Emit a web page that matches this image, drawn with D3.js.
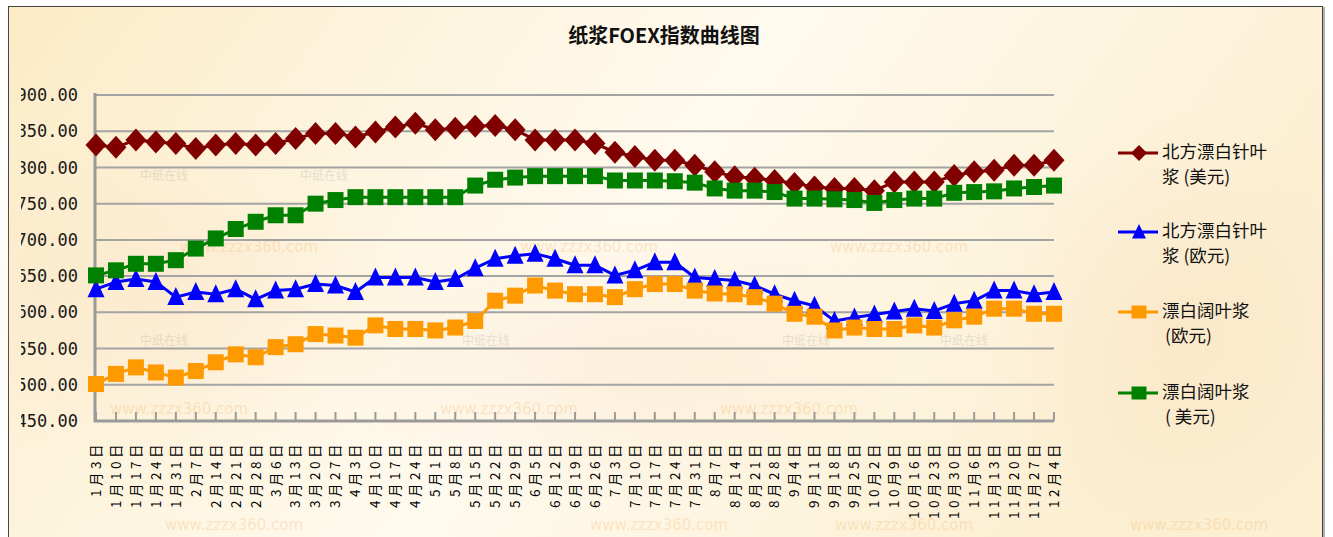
<!DOCTYPE html>
<html>
<head>
<meta charset="utf-8">
<script src="https://cdn.jsdelivr.net/npm/d3@7"></script>
<style>
  body { margin: 0; background: #fff; }
  svg { display: block; }
</style>
</head>
<body>
<div id="chart"></div>
<script>
const width = 1333;
const height = 537;
const plot = {left: 96, right: 1054, top: 95, bottom: 421};

const categories = [
  "1月3", "1月10", "1月17", "1月24", "1月31", "2月7", "2月14", "2月21", "2月28",
  "3月6", "3月13", "3月20", "3月27", "4月3", "4月10", "4月17", "4月24",
  "5月1", "5月8", "5月15", "5月22", "5月29", "6月5", "6月12", "6月19", "6月26",
  "7月3", "7月10", "7月17", "7月24", "7月31", "8月7", "8月14", "8月21", "8月28",
  "9月4", "9月11", "9月18", "9月25", "10月2", "10月9", "10月16", "10月23", "10月30",
  "11月6", "11月13", "11月20", "11月27", "12月4"
];

// 北方漂白针叶浆 (美元)
const nbskUsd = [
  831, 828, 838, 835, 833, 826, 831, 833, 831, 833, 840, 847, 847, 842, 849, 856, 861,
  852, 854, 857, 858, 852, 838, 838, 838, 833, 821, 815, 810, 810, 803, 794, 787, 785,
  782, 778, 773, 771, 771, 768, 780, 780, 780, 789, 794, 796, 803, 803, 810
];
// 北方漂白针叶浆 (欧元)
const nbskEur = [
  632, 642, 646, 642, 621, 628, 625, 632, 618, 630, 632, 639, 637, 628, 648, 648, 648,
  642, 646, 661, 674, 678, 681, 674, 665, 665, 651, 658, 669, 669, 648, 646, 644, 637,
  625, 616, 609, 588, 593, 597, 601, 605, 602, 612, 616, 630, 630, 625, 628
];
// 漂白阔叶浆 (欧元)
const bhkpEur = [
  501, 515, 524, 517, 510, 519, 531, 542, 538, 552, 556, 570, 568, 565, 582, 577, 577,
  575, 579, 588, 616, 623, 637, 630, 625, 625, 621, 632, 639, 639, 630, 626, 625, 621,
  612, 598, 594, 575, 579, 577, 577, 582, 579, 589, 594, 605, 605, 598, 598
];
// 漂白阔叶浆 (美元)
const bhkpUsd = [
  651, 658, 667, 667, 672, 688, 702, 715, 725, 734, 734, 750, 755, 759, 759, 759, 759,
  759, 759, 775, 783, 786, 788, 788, 788, 788, 782, 782, 782, 781, 779, 771, 768, 768,
  766, 757, 757, 756, 755, 751, 755, 757, 757, 765, 766, 767, 771, 773, 775
];

const yTicks = [450, 500, 550, 600, 650, 700, 750, 800, 850, 900];
const seriesNames = [
  ["北方漂白针叶", "浆 (美元)"],
  ["北方漂白针叶", "浆 (欧元)"],
  ["漂白阔叶浆", "(欧元)"],
  ["漂白阔叶浆", "( 美元)"]
];
const title = "纸浆FOEX指数曲线图";
const dateSuffix = "日";

const markers = {
  diamond: (w, h) => `M0,${-h}L${w},0L0,${h}L${-w},0Z`,
  triangle: (w, h) => `M0,${-h}L${w},${h * 0.8}L${-w},${h * 0.8}Z`,
  square: (w, h) => `M${-w},${-h}H${w}V${h}H${-w}Z`
};

const series = [
  {values: nbskUsd, color: "#800000", marker: "diamond", size: [10.5, 11.5], legendSize: [8, 8], name: seriesNames[0]},
  {values: nbskEur, color: "#0000ff", marker: "triangle", size: [8.5, 10], legendSize: [7, 8], name: seriesNames[1]},
  {values: bhkpEur, color: "#ff9900", marker: "square", size: [8, 8], legendSize: [7.5, 6.5], name: seriesNames[2]},
  {values: bhkpUsd, color: "#008000", marker: "square", size: [8, 8], legendSize: [7.5, 6.5], name: seriesNames[3]}
];

const x = d3.scalePoint()
  .domain(categories)
  .range([plot.left, plot.right]);

const y = d3.scaleLinear()
  .domain([450, 900])
  .range([plot.bottom, plot.top]);

const svg = d3.select("#chart")
  .append("svg")
  .attr("width", width)
  .attr("height", height)
  .attr("viewBox", [0, 0, width, height]);

const defs = svg.append("defs");
const bg = defs.append("linearGradient").attr("id", "bg").attr("x1", 0).attr("x2", 1).attr("y1", 0).attr("y2", 0.3);
[["0%", "#fcebc6"], ["25%", "#fdf3db"], ["55%", "#fffaee"], ["80%", "#fdf4de"], ["100%", "#fcefd2"]]
  .forEach(([o, c]) => bg.append("stop").attr("offset", o).attr("stop-color", c));
const glow = defs.append("radialGradient").attr("id", "glow");
glow.append("stop").attr("offset", "0%").attr("stop-color", "#f7d2ae").attr("stop-opacity", 0.25);
glow.append("stop").attr("offset", "100%").attr("stop-color", "#f7d2ae").attr("stop-opacity", 0);

defs.append("clipPath").attr("id", "ylabel-clip")
  .append("rect").attr("x", 21).attr("y", 60).attr("width", 74).attr("height", 380);

// frame and background
svg.append("rect")
  .attr("x", 8.5).attr("y", 6.5)
  .attr("width", 1314).attr("height", 540)
  .attr("fill", "url(#bg)")
  .attr("stroke", "#444").attr("stroke-width", 1);

svg.append("line")
  .attr("x1", 1324).attr("x2", 1324).attr("y1", 7).attr("y2", height)
  .attr("stroke", "#999").attr("stroke-width", 1.5);

const deco = svg.append("g");
[[150, 300, 260, 170], [620, 360, 300, 140], [1180, 330, 200, 220]]
  .forEach(([cx, cy, rx, ry]) => deco.append("ellipse")
    .attr("cx", cx).attr("cy", cy).attr("rx", rx).attr("ry", ry)
    .attr("fill", "url(#glow)"));

// watermarks
const wm = svg.append("g")
  .attr("font-family", "DejaVu Sans, sans-serif")
  .attr("font-size", 15)
  .attr("fill", "#f3b46a")
  .attr("fill-opacity", 0.3);
[[165, 530], [590, 530], [835, 530], [1130, 530],
 [180, 252], [520, 252], [830, 252],
 [110, 414], [440, 414], [720, 414]]
  .forEach(([tx, ty]) => wm.append("text").attr("x", tx).attr("y", ty).text("www.zzzx360.com"));

const wm2 = svg.append("g")
  .attr("font-family", "Noto Sans CJK SC, sans-serif")
  .attr("font-size", 12)
  .attr("fill", "#a9a49c")
  .attr("fill-opacity", 0.3);
[[140, 180], [300, 180], [140, 345], [462, 345], [782, 345], [940, 345]]
  .forEach(([tx, ty]) => wm2.append("text").attr("x", tx).attr("y", ty).text("中纸在线"));

// title
svg.append("text")
  .attr("x", 664).attr("y", 43)
  .attr("text-anchor", "middle")
  .attr("font-family", "Noto Sans CJK SC, sans-serif")
  .attr("font-weight", 700)
  .attr("font-size", 20)
  .attr("fill", "#111")
  .text(title);

// gridlines
svg.append("g")
  .selectAll("line")
  .data(yTicks.filter(d => d > 450))
  .join("line")
  .attr("x1", plot.left).attr("x2", plot.right)
  .attr("y1", d => y(d)).attr("y2", d => y(d))
  .attr("stroke", "#a3a3a3").attr("stroke-width", 2);

// y axis labels (left edge clipped, as in the source image)
svg.append("g")
  .attr("clip-path", "url(#ylabel-clip)")
  .selectAll("text")
  .data(yTicks)
  .join("text")
  .attr("x", 78)
  .attr("y", d => y(d))
  .attr("dy", "0.36em")
  .attr("text-anchor", "end")
  .attr("font-family", "DejaVu Sans Mono, monospace")
  .attr("font-size", 17)
  .attr("fill", "#1a1a1a")
  .text(d => d3.format(".2f")(d));

// axes
svg.append("line")
  .attr("x1", plot.left - 1).attr("x2", plot.left - 1)
  .attr("y1", plot.top - 2).attr("y2", plot.bottom + 1)
  .attr("stroke", "#9a9a9a").attr("stroke-width", 3);

const xAxis = svg.append("g").attr("transform", `translate(0,${plot.bottom})`);
xAxis.append("line")
  .attr("x1", plot.left - 2).attr("x2", plot.right)
  .attr("stroke", "#9a9a9a").attr("stroke-width", 3);
xAxis.selectAll(".tick")
  .data(categories)
  .join("line")
  .attr("x1", d => x(d)).attr("x2", d => x(d))
  .attr("y1", -9).attr("y2", 0)
  .attr("stroke", "#9a9a9a").attr("stroke-width", 2);

svg.append("g")
  .selectAll("text")
  .data(categories)
  .join("text")
  .attr("transform", d => `translate(${x(d)},441) rotate(-90)`)
  .attr("dy", "0.36em")
  .attr("text-anchor", "end")
  .attr("font-family", "Noto Sans CJK SC, sans-serif")
  .attr("font-size", 13.5)
  .attr("letter-spacing", 3.5)
  .attr("fill", "#000")
  .text(d => d + dateSuffix);

// series
const line = d3.line()
  .x((d, i) => x(categories[i]))
  .y(d => y(d));

series.forEach(s => {
  const g = svg.append("g");
  g.append("path")
    .datum(s.values)
    .attr("fill", "none")
    .attr("stroke", s.color)
    .attr("stroke-width", 3)
    .attr("d", line);
  g.selectAll("path.m")
    .data(s.values)
    .join("path")
    .attr("class", "m")
    .attr("transform", (d, i) => `translate(${x(categories[i])},${y(d)})`)
    .attr("fill", s.color)
    .attr("d", markers[s.marker](...s.size));
});

// legend
const legendY = [153, 232, 312, 393];
const legend = svg.append("g")
  .selectAll("g")
  .data(series)
  .join("g")
  .attr("transform", (d, i) => `translate(1118,${legendY[i]})`);

legend.append("line")
  .attr("x1", 0).attr("x2", 40)
  .attr("stroke", d => d.color).attr("stroke-width", 3);
legend.append("path")
  .attr("transform", "translate(21,0)")
  .attr("fill", d => d.color)
  .attr("d", d => markers[d.marker](...d.legendSize));
legend.selectAll("text")
  .data(d => d.name)
  .join("text")
  .attr("x", (d, i) => i === 1 && d.startsWith("(") ? 47 : 44)
  .attr("y", (d, i) => i * 25 - 1)
  .attr("dy", "0.36em")
  .attr("font-family", "Noto Sans CJK SC, sans-serif")
  .attr("font-size", 17.5)
  .attr("fill", "#111")
  .text(d => d);
</script>
</body>
</html>
